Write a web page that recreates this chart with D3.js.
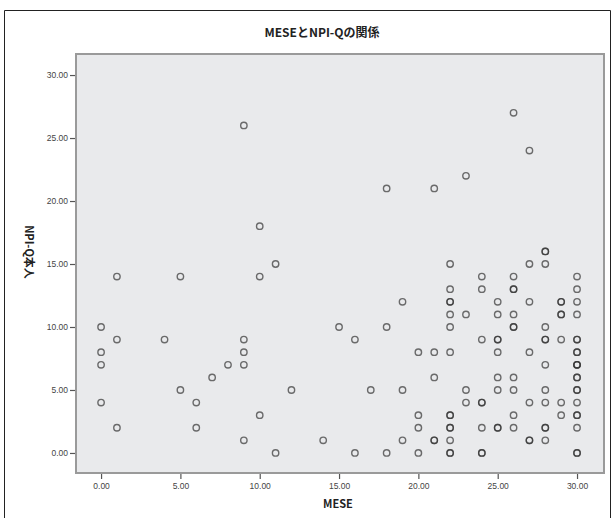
<!DOCTYPE html>
<html>
<head>
<meta charset="utf-8">
<script src="https://cdn.jsdelivr.net/npm/d3@7"></script>
<style>
body{margin:0;background:#fff;}
svg{display:block;}
</style>
</head>
<body>
<svg id="c" width="614" height="518"></svg>
<script>
const title = "MESEとNPI-Qの関係";
const xLabel = "MESE";
const yLabel = "NPI-Q本人";
const xTicks = [0, 5, 10, 15, 20, 25, 30];
const yTicks = [0, 5, 10, 15, 20, 25, 30];
// MESE values (x) and NPI-Q values (y), one entry per case (duplicates = overplotted cases)
const mese = [
  0,0,0,0, 1,1,1, 4, 5,5, 6,6, 7, 8, 9,9,9,9,9, 10,10,10, 11,11, 12, 14, 15, 16,16, 17,
  18,18,18, 19,19,19, 20,20,20,20, 21,21,21,21,21,
  22,22,22,22,22,22,22,22,22,22,22,22,22,22,
  23,23,23,23, 24,24,24,24,24,24,24,24,
  25,25,25,25,25,25,25,25,25,
  26,26,26,26,26,26,26,26,26,26,26,
  27,27,27,27,27,27,27,
  28,28,28,28,28,28,28,28,28,28,28,28,
  29,29,29,29,29,29,29,
  30,30,30,30,30,30,30,30,30,30,30,30,30,30,30,30,30,30,30,30,30
];
const npiq = [
  10,8,7,4, 14,9,2, 9, 14,5, 4,2, 6, 7, 26,9,8,7,1, 18,14,3, 15,0, 5, 1, 10, 9,0, 5,
  21,10,0, 12,5,1, 8,3,2,0, 21,8,6,1,1,
  15,13,12,12,11,10,8,3,3,2,2,1,0,0,
  22,11,5,4, 14,13,9,4,4,2,0,0,
  12,11,9,9,8,6,5,2,2,
  27,14,13,13,11,10,10,6,5,3,2,
  24,15,12,8,4,1,1,
  16,16,15,10,9,9,7,5,4,2,2,1,
  12,12,11,11,9,4,3,
  14,13,12,11,9,9,8,8,7,7,7,6,6,5,5,4,3,3,2,0,0
];
const points = mese.map((v, i) => ({x: v, y: npiq[i]}));

const svg = d3.select("#c");
const fmt = d3.format(".2f");

// outer frame
svg.append("path").attr("d", "M4.5,518 V10.5 H610.5 V518")
  .attr("fill", "none").attr("stroke", "#222").attr("stroke-width", 1);

const pL = 76, pR = 604, pT = 54, pB = 473;
const x = d3.scaleLinear().domain([-1.58, 31.7]).range([pL, pR]);
const y = d3.scaleLinear().domain([-1.59, 31.67]).range([pB, pT]);

svg.append("rect").attr("x", pL).attr("y", pT)
  .attr("width", pR - pL).attr("height", pB - pT)
  .attr("fill", "#e9eaec").attr("stroke", "#9a9a9a").attr("stroke-width", 2);

svg.append("text").attr("x", 322).attr("y", 37).attr("text-anchor", "middle")
  .attr("font-family", "'Noto Sans CJK JP', sans-serif").attr("font-weight", "bold")
  .attr("font-size", 12).attr("fill", "#222").text(title);

const xAxis = svg.append("g").attr("transform", `translate(0,${pB + 1})`)
  .call(d3.axisBottom(x).tickValues(xTicks).tickFormat(fmt).tickSizeOuter(0).tickSize(5).tickPadding(4));
const yAxis = svg.append("g").attr("transform", `translate(${pL - 1},0)`)
  .call(d3.axisLeft(y).tickValues(yTicks).tickFormat(fmt).tickSizeOuter(0).tickSize(5).tickPadding(2));
[xAxis, yAxis].forEach(g => {
  g.select(".domain").remove();
  g.selectAll(".tick line").attr("stroke", "#555").attr("stroke-width", 1.2);
  g.selectAll(".tick text").attr("font-family", "'Liberation Sans Narrow', 'Liberation Sans', sans-serif")
    .attr("font-size", 8.5).attr("fill", "#444");
});

svg.append("text").attr("x", 338).attr("y", 508).attr("text-anchor", "middle")
  .attr("font-family", "'Noto Sans CJK JP', sans-serif").attr("font-weight", "bold")
  .attr("font-size", 11).attr("fill", "#222").text(xLabel);

svg.append("text").attr("transform", "translate(25,252) rotate(90)")
  .attr("text-anchor", "middle")
  .attr("font-family", "'Noto Sans CJK JP', sans-serif").attr("font-weight", "bold")
  .attr("font-size", 11).attr("fill", "#222").text(yLabel);

svg.append("g").selectAll("circle").data(points).join("circle")
  .attr("cx", d => x(d.x)).attr("cy", d => y(d.y)).attr("r", 3.2)
  .attr("fill", "none").attr("stroke", "#333").attr("stroke-opacity", 0.7)
  .attr("stroke-width", 1.4);
</script>
</body>
</html>
